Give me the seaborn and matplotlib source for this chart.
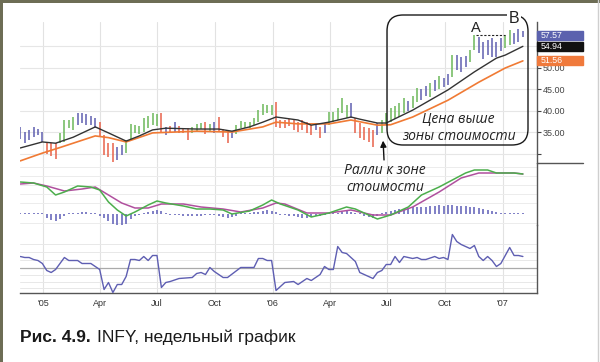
import matplotlib
matplotlib.use("Agg")
import matplotlib.pyplot as plt
import matplotlib.transforms as mtransforms
from matplotlib.patches import FancyBboxPatch, Rectangle
from matplotlib.lines import Line2D
import pandas as pd
import seaborn as sns

# weekly bars, late Nov 2004 .. end of Jan 2007
week0 = pd.Timestamp("2004-11-26")
n_weeks = 115
weeks = pd.date_range(week0, periods=n_weeks, freq="7D")

bar_high = [36.2, 35.0, 35.5, 36.2, 35.7, 35.0, 32.7, 32.4, 32.4, 34.8, 37.8, 37.8, 38.5,
            39.4, 39.4, 39.2, 38.8, 38.2, 37.3, 34.3, 32.4, 32.4, 31.5, 31.9,
            33.1, 36.9, 36.6, 36.5, 38.3, 38.7, 39.4, 39.1,
            39.4, 36.2, 36.4, 37.3, 36.5, 35.7, 35.9, 36.2, 36.9, 37.0, 37.3, 36.9, 37.3, 38.5,
            35.7, 35.5, 35.0, 36.6, 37.6, 37.3, 37.3, 38.2, 40.1, 41.5, 41.3, 41.2,
            42.0, 37.8, 37.8, 38.0, 37.8, 37.3, 37.8, 37.3, 36.6, 36.9, 36.2, 36.9,
            39.7, 39.7, 40.6, 42.9, 41.3, 41.7, 38.3, 37.0, 36.2, 35.9, 35.5, 37.1,
            37.8, 39.4, 40.5, 41.0, 41.7, 43.0, 42.3, 43.5, 45.2, 45.0, 45.8, 46.4, 47.2,
            48.0, 47.5, 48.5, 52.9, 53.0, 52.5, 52.8, 54.0, 57.6, 57.0, 56.0, 56.5, 56.8,
            56.0, 56.8, 57.6, 58.7, 58.0, 59.0, 58.5]
bar_low = [33.4, 32.4, 33.1, 33.8, 34.3, 32.7, 29.8, 29.5, 28.7, 32.4, 32.7, 35.9, 35.5,
           36.6, 37.1, 36.6, 36.6, 35.9, 33.8, 29.6, 29.2, 28.0, 28.5, 29.6,
           30.1, 33.1, 34.8, 34.5, 35.0, 35.9, 36.6, 36.3,
           35.0, 34.3, 34.8, 35.0, 34.8, 34.8, 33.1, 34.8, 35.2, 35.6, 34.5, 35.2, 34.8, 35.0,
           33.8, 32.4, 33.6, 34.5, 36.0, 35.9, 35.9, 36.6, 37.3, 39.0, 39.4, 39.0,
           36.2, 35.9, 35.9, 36.3, 35.5, 35.0, 35.5, 34.8, 34.3, 35.5, 33.6, 34.8,
           36.6, 37.3, 37.8, 39.4, 38.2, 38.3, 34.8, 33.6, 33.1, 32.7, 31.5, 34.3,
           34.8, 36.6, 37.3, 38.0, 38.6, 39.5, 40.0, 40.5, 42.0, 42.5, 43.3, 43.1, 44.5,
           45.0, 45.5, 46.0, 47.8, 49.5, 49.0, 50.2, 51.3, 54.1, 53.5, 52.0, 53.0, 52.5,
           52.5, 53.8, 54.5, 55.2, 55.5, 56.0, 57.0]
# impulse colour of each bar: G rising, R falling, B neutral
bar_kind = list("BBBBBB" "RRR" "GGGG" "BBBBB" "RRRR" "BB" "GGGGGGGG" "RBRBRRR" "GGGRGBR"
                "RRB" "GGGGGGGGG" "RRRRRRRRRBRB" "GGGGGB" "RRRRRB"
                "GGGGGGBGGBBGBGBBGBBBGGBBBBBBGGBBB")

# moving averages (week index, price)
fast_wk = [0, 5, 8, 12, 17, 20, 24, 27, 30, 33, 40, 45, 48, 52, 55, 58, 63, 66, 70, 75,
           77, 81, 83, 89, 97, 103, 108, 110, 114]
fast_ema = [31.3, 32.7, 32.4, 33.8, 36.2, 34.8, 32.9, 34.1, 35.5, 35.9, 35.7, 35.7, 35.2,
            36.2, 37.3, 38.5, 37.8, 36.6, 37.3, 38.5, 38.0, 37.1, 37.1, 40.1, 44.8, 49.0,
            52.2, 52.9, 54.94]
slow_wk = [0, 5, 9, 17, 20, 24, 30, 40, 48, 55, 58, 63, 70, 75, 81, 84, 89, 97, 104, 110, 114]
slow_ema = [28.3, 30.1, 31.4, 34.1, 33.7, 32.7, 34.8, 35.2, 35.0, 36.2, 37.3, 36.9, 36.9,
            37.8, 36.6, 36.7, 38.5, 42.4, 46.6, 49.9, 51.56]

# MACD lines and histogram (arbitrary units)
macd_wk = [0, 3, 6, 8, 10, 13, 16, 18, 20, 22, 24, 26, 29, 31, 33, 37, 40, 43, 46, 48, 52,
           55, 57, 59, 63, 66, 70, 74, 76, 79, 81, 84, 88, 91, 95, 98, 101, 103, 106, 108,
           112, 114]
macd_line = [32, 31, 27, 19, 22, 28, 27, 24, 12, 4, -2, 2, 9, 13, 11, 8, 5, 5, 4, 0, 3,
             9, 14, 10, 4, -3, 1, 7, 5, -1, -5, -1, 7, 19, 27, 34, 41, 44, 44, 41, 41, 40]
sig_wk = [0, 3, 6, 10, 14, 17, 20, 23, 26, 29, 32, 37, 41, 46, 50, 55, 58, 60, 65, 70, 75,
          80, 84, 89, 95, 100, 104, 107, 112, 114]
sig_line = [30, 31, 28, 23, 25, 27, 19, 11, 6, 6, 10, 10, 7, 5, 2, 6, 11, 10, 1, 1, 4,
            -1, -1, 7, 22, 36, 41, 41, 41, 40]
macd_hist = [1.2, 1.2, 1.2, 1.2, 1.2, 1.2, -4, -6, -7, -5, -1.5, 1.2,
             1.2, 1.5, 2, 2, 1.5, 1.2, -1.5, -4, -7, -10, -12, -13, -10, -5, -2, -1.2,
             1.5, 2.5, 3.5, 4, 3, 1.2,
             -1.2, -1.2, -1.2, -1.5, -1.5, -1.5, -1.5, -1.5, -1.2, -1.2, -1.2, -1.5,
             -2.5, -3.5, -3, -1.5, 1.2, 1.2, 1.5, 2, 2.5, 3.5, 4, 3.5, 2,
             -1.2, -1.2, -1.5, -2, -3, -3.5, -3.5, -3, -2, -1.5, -1.2, 1.2,
             1.2, 1.5, 2.5, 3, 2.5, 1.5, 1.2, -1.5, -3, -3.5, -2,
             1.5, 2.5, 3.5, 4.5, 5, 5.5, 6.5, 7, 7, 7.5, 7.5, 8, 8.5, 9, 8.5, 9, 9, 8.5, 8,
             8, 7.5, 7, 6, 5, 4, 3, 2, 1.2, 1.2, 1.2, 1.2, 1.2, 1.2]

# lower oscillator
osc_wk = [0, 1, 2, 3, 4, 5, 6, 7, 8, 10, 11, 13, 14, 16, 17, 18, 19, 20, 21, 22, 23, 24,
          25, 26, 27, 28, 29, 30, 31, 32, 33, 34, 36, 39, 40, 41, 42, 43, 44, 46, 47, 50,
          51, 53, 54, 55, 56, 57, 58, 60, 62, 63, 65, 66, 68, 69, 70, 71, 72, 73, 74, 76,
          77, 78, 80, 81, 82, 83, 84, 85, 86, 87, 89, 90, 91, 92, 94, 95, 96, 97, 98, 99,
          100, 102, 103, 104, 105, 106, 107, 108, 109, 111, 112, 113, 114]
osc_val = [36, 35, 35, 33, 32, 29, 22, 20, 23, 35, 32, 32, 29, 29, 26, 23, 3, 10, 0, 8, 8,
           16, 33, 33, 32, 36, 32, 37, 37, 5, 10, 11, 14, 15, 19, 20, 18, 25, 21, 15, 15,
           25, 25, 25, 34, 34, 32, 32, 2, 10, 11, 8, 14, 12, 18, 26, 23, 23, 46, 40, 39,
           31, 20, 18, 14, 20, 22, 28, 28, 36, 30, 36, 34, 35, 33, 33, 36, 34, 35, 33, 58,
           51, 48, 44, 47, 36, 32, 36, 32, 26, 29, 45, 37, 37, 36]

last_close = 57.57
last_fast = 54.94
last_slow = 51.56

price_ticks = [30, 35, 40, 45, 50, 55]
price_labels = ["", "35.00", "40.00", "45.00", "50.00", ""]
tick_dates = pd.to_datetime(["2005-01-01", "2005-04-01", "2005-07-01", "2005-10-01",
                             "2006-01-01", "2006-04-01", "2006-07-01", "2006-10-01",
                             "2007-01-01"])
tick_labels = ["'05", "Apr", "Jul", "Oct", "'06", "Apr", "Jul", "Oct", "'07"]

kind_colors = {"G": "#6cb85a", "R": "#e8624a", "B": "#5f5fb0"}

sns.set_theme(style="white")
plt.rcParams["font.family"] = ["Liberation Sans", "DejaVu Sans"]

W, H = 600, 362
fig = plt.figure(figsize=(W / 100, H / 100), dpi=100)
fig.patch.set_facecolor("white")


def px_box(x0, y0, x1, y1):
    return [x0 / W, 1 - y1 / H, (x1 - x0) / W, (y1 - y0) / H]


ax1 = fig.add_axes(px_box(20, 22, 537, 163))
ax2 = fig.add_axes(px_box(20, 163, 537, 225))
ax3 = fig.add_axes(px_box(20, 225, 537, 293))
ax1.set_zorder(3)
for a in (ax2, ax3):
    a.set_facecolor("none")

x_left = weeks[0] - pd.Timedelta(days=0.5)
x_right = weeks[0] + pd.Timedelta(days=117.2 * 7)
grid_c = "#e6e6e6"

for a in (ax1, ax2, ax3):
    for d in tick_dates:
        a.axvline(d, color="#e2e2e2", lw=0.8, zorder=0)
    for s in ("top", "left", "bottom"):
        a.spines[s].set_visible(False)
    a.spines["right"].set_color("#555555")
    a.spines["right"].set_linewidth(1.0)

# --- price panel
for p in price_ticks:
    ax1.axhline(p, color=grid_c, lw=0.8, zorder=0)
ax1.vlines(weeks, bar_low, bar_high, colors=[kind_colors[k] for k in bar_kind], lw=1.1, zorder=2)
sns.lineplot(x=weeks[slow_wk], y=slow_ema, ax=ax1, color="#f07a34", lw=1.2, zorder=3)
sns.lineplot(x=weeks[fast_wk], y=fast_ema, ax=ax1, color="#333333", lw=1.0, zorder=3)
ax1.set_ylim(27.8, 60.6)
ax1.set_xlim(x_left, x_right)
ax1.set_xticks([])
ax1.yaxis.tick_right()
ax1.set_yticks(price_ticks)
ax1.set_yticklabels(price_labels)
ax1.tick_params(axis="y", direction="out", length=3, width=0.8, pad=1, labelsize=6.5,
                colors="#444444", right=True, left=False)
ax1.set_xlabel("")
ax1.set_ylabel("")

# value boxes on the right
trans = mtransforms.blended_transform_factory(ax1.transAxes, ax1.transData)
box_w = 46 / 517
for val, col in ((last_close, "#5b62ae"), (last_fast, "#111111"), (last_slow, "#f07a3c")):
    ax1.add_patch(Rectangle((1.0, val - 1.05), box_w, 2.1, transform=trans, color=col,
                            clip_on=False, zorder=5))
    ax1.text(1.0 + 4 / 517, val, f"{val:.2f}", transform=trans, color="white", fontsize=6.3,
             ha="left", va="center", clip_on=False, zorder=6)

# annotation frame (pixel coordinates)
px_up = mtransforms.Affine2D().scale(1 / 100) + fig.dpi_scale_trans
ax1.add_patch(FancyBboxPatch((387, H - 145), 141, 130, boxstyle="round,pad=0,rounding_size=16",
                             transform=px_up, fill=False, ec="#1a1a1a", lw=1.0,
                             clip_on=False, zorder=4))
ax1.hlines(bar_high[103], weeks[103] + pd.Timedelta(days=2), weeks[110] - pd.Timedelta(days=1),
           colors="#222222", lw=0.8, linestyles=(0, (2, 1.5)), zorder=4)
ax1.text(weeks[103] + pd.Timedelta(days=3), 59.2, "A", fontsize=10.5, color="#222222",
         ha="center", va="center", clip_on=False, zorder=6)
ax1.text(weeks[112], 61.3, "B", fontsize=11.5, color="#222222", ha="center", va="center",
         clip_on=False, zorder=6,
         bbox=dict(boxstyle="square,pad=0.1", fc="white", ec="none"))
hand = ["Open Sans", "DejaVu Sans"]
ax1.text(weeks[99] + pd.Timedelta(days=3), 36.0, "Цена выше\nзоны стоимости", fontsize=10,
         style="italic", family=hand, ha="center", va="center", linespacing=1.2,
         color="#222222", zorder=6)
ax1.annotate("Ралли к зоне\nстоимости", xy=(weeks[82] + pd.Timedelta(days=2), 33.0),
             xytext=(weeks[82] + pd.Timedelta(days=5), 24.0), fontsize=10, style="italic",
             family=hand, ha="center", va="center", linespacing=1.2, color="#222222",
             annotation_clip=False, zorder=6,
             arrowprops=dict(arrowstyle="-|>", color="#111111", lw=1.0, shrinkA=0, shrinkB=0,
                             mutation_scale=9))

# --- MACD panel
for v in (47, 38, 29, 20, 11, -9):
    ax2.axhline(v, color="#ececec", lw=0.7, zorder=0)
ax2.vlines(weeks, 0, macd_hist, colors="#6a6abc", lw=1.2, zorder=2)
sns.lineplot(x=weeks[sig_wk], y=sig_line, ax=ax2, color="#b0509e", lw=1.1, zorder=3)
sns.lineplot(x=weeks[macd_wk], y=macd_line, ax=ax2, color="#4cae4c", lw=1.1, zorder=3)
ax2.set_ylim(-11, 51)
ax2.set_xlim(x_left, x_right)
ax2.set_xticks([])
ax2.set_yticks([])
ax2.set_xlabel("")
ax2.set_ylabel("")

# --- oscillator panel
for v in (5, 11, 18, 33, 41, 49):
    ax3.axhline(v, color="#e8e8e8", lw=0.7, zorder=0)
ax3.axhline(25, color="#aaaaaa", lw=0.9, zorder=1)
sns.lineplot(x=weeks[osc_wk], y=osc_val, ax=ax3, color="#5e5eb2", lw=1.0, zorder=3)
ax3.set_ylim(-0.5, 67.5)
ax3.set_xlim(x_left, x_right)
ax3.spines["bottom"].set_visible(True)
ax3.spines["bottom"].set_color("#555555")
ax3.spines["bottom"].set_linewidth(1.0)
ax3.set_yticks([])
ax3.set_xticks(tick_dates)
ax3.set_xticklabels(tick_labels)
ax3.tick_params(axis="x", length=0, pad=4, labelsize=6.5, colors="#333333")
ax3.set_xlabel("")
ax3.set_ylabel("")

# separator stub right of price panel
fig.add_artist(Line2D([537, 583], [H - 163, H - 163], transform=px_up, color="#555555", lw=1.0))

# page borders
fig.add_artist(Rectangle((0, H - 2.5), W, 2.5, transform=px_up, color="#6d6d55", lw=0))
fig.add_artist(Rectangle((0, 0), 2.5, H, transform=px_up, color="#6d6d55", lw=0))
fig.add_artist(Line2D([597.5, 597.5], [0, H], transform=px_up, color="#cfcfcf", lw=1.0))

# caption
t1 = fig.text(20 / W, 1 - 342 / H, "Рис. 4.9.", fontsize=12.5, fontweight="bold",
              color="#1a1a1a", va="baseline", ha="left")
fig.canvas.draw()
bb = t1.get_window_extent(renderer=fig.canvas.get_renderer())
fig.text(bb.x1 / fig.bbox.width + 6 / W, 1 - 342 / H, "INFY, недельный график",
         fontsize=12.5, color="#1a1a1a", va="baseline", ha="left")

fig.savefig("out.png", dpi=100, facecolor="white")
